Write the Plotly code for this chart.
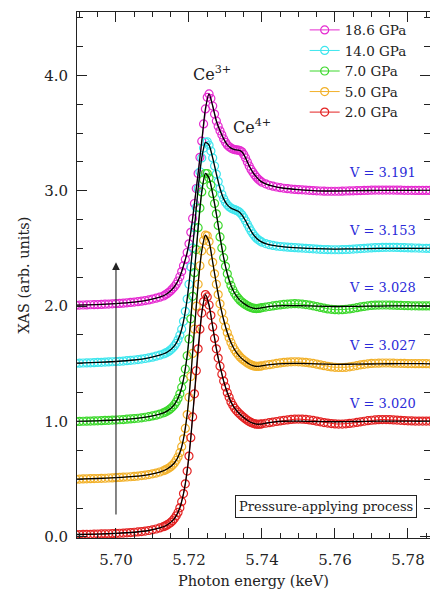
import plotly.graph_objects as go

# ---------------- data ----------------
E_PRE = [5.689, 5.690, 5.691, 5.692, 5.693, 5.694, 5.695, 5.696, 5.697, 5.698,
         5.699, 5.700, 5.701, 5.702, 5.703, 5.704, 5.705, 5.706, 5.707, 5.708,
         5.709, 5.710, 5.711, 5.712, 5.713]
E_EDGE = [5.7135, 5.7140, 5.7145, 5.7150, 5.7155, 5.7160, 5.7165, 5.7170, 5.7175, 5.7180,
          5.7185, 5.7190, 5.7195, 5.7200, 5.7205, 5.7210, 5.7215, 5.7220, 5.7225, 5.7230,
          5.7235, 5.7240, 5.7245, 5.7250, 5.7255, 5.7260, 5.7265, 5.7270, 5.7275, 5.7280,
          5.7285, 5.7290, 5.7295, 5.7300, 5.7305, 5.7310, 5.7315, 5.7320, 5.7325, 5.7330,
          5.7335, 5.7340, 5.7345, 5.7350, 5.7355, 5.7360, 5.7365, 5.7370, 5.7375, 5.7380,
          5.7385, 5.7390, 5.7395, 5.7400]
E_TAIL = [5.741, 5.742, 5.743, 5.744, 5.745, 5.746, 5.747, 5.748, 5.749, 5.750,
          5.751, 5.752, 5.753, 5.754, 5.755, 5.756, 5.757, 5.758, 5.759, 5.760,
          5.761, 5.762, 5.763, 5.764, 5.765, 5.766, 5.767, 5.768, 5.769, 5.770,
          5.771, 5.772, 5.773, 5.774, 5.775, 5.776, 5.777, 5.778, 5.779, 5.780,
          5.781, 5.782, 5.783, 5.784, 5.785, 5.786, 5.787, 5.788, 5.789, 5.790]
ENERGY = E_PRE + E_EDGE + E_TAIL

# normalized XAS (measured), before vertical offset
XAS_186 = [0.008, 0.009, 0.010, 0.011, 0.012, 0.013, 0.014, 0.015, 0.017, 0.018,
           0.020, 0.022, 0.024, 0.026, 0.029, 0.032, 0.035, 0.039, 0.043, 0.048,
           0.054, 0.061, 0.069, 0.078, 0.088,
           0.098, 0.108, 0.120, 0.134, 0.150, 0.168, 0.190, 0.218, 0.255, 0.300,
           0.350, 0.405, 0.465, 0.540, 0.640, 0.760, 0.890, 1.020, 1.150, 1.290,
           1.430, 1.580, 1.710, 1.810, 1.840, 1.800, 1.735, 1.665, 1.605, 1.560,
           1.520, 1.485, 1.450, 1.420, 1.398, 1.382, 1.370, 1.362, 1.357, 1.354,
           1.352, 1.348, 1.338, 1.315, 1.285, 1.250, 1.215, 1.185, 1.160, 1.138,
           1.118, 1.100, 1.086, 1.074,
           1.060, 1.048, 1.040, 1.033, 1.027, 1.022, 1.018, 1.015, 1.012, 1.010,
           1.008, 1.006, 1.004, 1.002, 1.000, 0.998, 0.997, 0.996, 0.996, 0.996,
           0.996, 0.997, 0.998, 0.999, 1.000, 1.001, 1.002, 1.003, 1.004, 1.005,
           1.006, 1.006, 1.006, 1.006, 1.006, 1.006, 1.005, 1.005, 1.004, 1.004,
           1.004, 1.003, 1.003, 1.003, 1.003, 1.003, 1.003, 1.003, 1.003, 1.003]
XAS_140 = [0.005, 0.006, 0.007, 0.008, 0.009, 0.010, 0.012, 0.013, 0.015, 0.016,
           0.018, 0.020, 0.022, 0.024, 0.027, 0.030, 0.033, 0.037, 0.041, 0.046,
           0.052, 0.058, 0.066, 0.075, 0.085,
           0.092, 0.100, 0.110, 0.122, 0.137, 0.155, 0.178, 0.208, 0.248, 0.300,
           0.368, 0.455, 0.562, 0.690, 0.840, 1.005, 1.180, 1.355, 1.520, 1.665,
           1.785, 1.870, 1.920, 1.925, 1.895, 1.845, 1.785, 1.715, 1.645, 1.580,
           1.520, 1.470, 1.430, 1.400, 1.378, 1.362, 1.350, 1.342, 1.336, 1.330,
           1.322, 1.310, 1.292, 1.268, 1.240, 1.210, 1.180, 1.152, 1.127, 1.106,
           1.089, 1.075, 1.064, 1.055,
           1.042, 1.033, 1.026, 1.021, 1.017, 1.014, 1.011, 1.009, 1.007, 1.005,
           1.003, 1.001, 0.999, 0.997, 0.995, 0.993, 0.991, 0.990, 0.989, 0.989,
           0.989, 0.990, 0.991, 0.993, 0.995, 0.997, 0.999, 1.001, 1.003, 1.005,
           1.007, 1.008, 1.009, 1.010, 1.010, 1.010, 1.009, 1.008, 1.007, 1.006,
           1.005, 1.004, 1.003, 1.002, 1.001, 1.000, 1.000, 1.000, 1.000, 1.000]
XAS_70 = [0.000, 0.001, 0.002, 0.003, 0.004, 0.005, 0.006, 0.007, 0.009, 0.010,
          0.012, 0.013, 0.015, 0.017, 0.020, 0.022, 0.025, 0.028, 0.032, 0.037,
          0.042, 0.048, 0.055, 0.064, 0.075,
          0.082, 0.090, 0.100, 0.112, 0.127, 0.146, 0.170, 0.200, 0.240, 0.295,
          0.365, 0.455, 0.570, 0.715, 0.890, 1.085, 1.290, 1.490, 1.680, 1.850,
          1.990, 2.095, 2.150, 2.150, 2.110, 2.050, 1.975, 1.890, 1.800, 1.700,
          1.600, 1.505, 1.420, 1.345, 1.280, 1.225, 1.180, 1.142, 1.112, 1.088,
          1.068, 1.050, 1.036, 1.024, 1.013, 1.003, 0.995, 0.988, 0.983, 0.980,
          0.979, 0.980, 0.983, 0.987,
          0.992, 0.997, 1.002, 1.007, 1.011, 1.015, 1.018, 1.020, 1.021, 1.020,
          1.018, 1.014, 1.009, 1.003, 0.996, 0.989, 0.982, 0.976, 0.972, 0.969,
          0.968, 0.969, 0.972, 0.976, 0.981, 0.987, 0.993, 0.998, 1.003, 1.006,
          1.008, 1.009, 1.010, 1.010, 1.009, 1.008, 1.007, 1.006, 1.005, 1.004,
          1.003, 1.003, 1.002, 1.002, 1.002, 1.002, 1.002, 1.002, 1.002, 1.002]
XAS_50 = [0.000, 0.001, 0.002, 0.003, 0.004, 0.005, 0.006, 0.007, 0.008, 0.010,
          0.011, 0.013, 0.015, 0.017, 0.019, 0.021, 0.024, 0.027, 0.031, 0.035,
          0.040, 0.046, 0.053, 0.062, 0.073,
          0.080, 0.088, 0.097, 0.108, 0.122, 0.140, 0.163, 0.192, 0.230, 0.282,
          0.350, 0.440, 0.560, 0.710, 0.890, 1.090, 1.300, 1.500, 1.690, 1.850,
          1.980, 2.070, 2.115, 2.110, 2.060, 1.975, 1.880, 1.780, 1.690, 1.600,
          1.520, 1.445, 1.380, 1.320, 1.270, 1.225, 1.185, 1.150, 1.122, 1.098,
          1.078, 1.060, 1.045, 1.032, 1.020, 1.008, 0.998, 0.990, 0.984, 0.980,
          0.978, 0.978, 0.980, 0.983,
          0.988, 0.993, 0.998, 1.003, 1.008, 1.012, 1.015, 1.017, 1.018, 1.017,
          1.015, 1.012, 1.008, 1.003, 0.997, 0.990, 0.984, 0.978, 0.973, 0.970,
          0.968, 0.968, 0.970, 0.974, 0.979, 0.985, 0.991, 0.996, 1.000, 1.003,
          1.005, 1.006, 1.007, 1.007, 1.007, 1.006, 1.005, 1.004, 1.003, 1.002,
          1.002, 1.001, 1.001, 1.001, 1.001, 1.000, 1.000, 1.000, 1.000, 1.000]
XAS_20 = [0.020, 0.020, 0.021, 0.022, 0.022, 0.023, 0.024, 0.025, 0.026, 0.027,
          0.028, 0.030, 0.031, 0.033, 0.035, 0.037, 0.040, 0.043, 0.046, 0.050,
          0.055, 0.061, 0.068, 0.077, 0.088,
          0.095, 0.103, 0.113, 0.125, 0.140, 0.158, 0.182, 0.212, 0.252, 0.305,
          0.375, 0.460, 0.570, 0.700, 0.860, 1.040, 1.240, 1.440, 1.630, 1.800,
          1.940, 2.040, 2.100, 2.080, 2.010, 1.920, 1.820, 1.720, 1.630, 1.550,
          1.480, 1.410, 1.350, 1.300, 1.250, 1.210, 1.170, 1.140, 1.115, 1.095,
          1.078, 1.062, 1.048, 1.035, 1.022, 1.010, 1.000, 0.992, 0.985, 0.980,
          0.977, 0.976, 0.977, 0.980,
          0.985, 0.990, 0.995, 1.000, 1.005, 1.010, 1.014, 1.018, 1.020, 1.021,
          1.020, 1.018, 1.014, 1.009, 1.003, 0.997, 0.991, 0.986, 0.982, 0.979,
          0.978, 0.978, 0.980, 0.983, 0.987, 0.992, 0.997, 1.002, 1.007, 1.011,
          1.014, 1.016, 1.017, 1.017, 1.016, 1.014, 1.012, 1.010, 1.008, 1.006,
          1.005, 1.004, 1.004, 1.004, 1.004, 1.004, 1.004, 1.004, 1.004, 1.004]

# fitted curves (black lines), on a coarser energy grid
FIT_E = [5.689, 5.695, 5.700, 5.705, 5.709, 5.712, 5.714, 5.716, 5.7175, 5.7185,
         5.7195, 5.7205, 5.7215, 5.7225, 5.7235, 5.7245, 5.7255, 5.7265, 5.7275, 5.7285,
         5.7295, 5.7305, 5.7315, 5.7325, 5.7335, 5.7345, 5.7355, 5.7365, 5.7375, 5.7385,
         5.7395, 5.741, 5.743, 5.746, 5.750, 5.755, 5.760, 5.766, 5.772, 5.778,
         5.784, 5.790]
FIT_186 = [0.008, 0.014, 0.022, 0.035, 0.054, 0.078, 0.108, 0.168, 0.255, 0.350,
           0.465, 0.640, 0.890, 1.150, 1.430, 1.710, 1.840, 1.735, 1.605, 1.520,
           1.450, 1.398, 1.370, 1.357, 1.352, 1.338, 1.285, 1.215, 1.160, 1.118,
           1.086, 1.060, 1.040, 1.022, 1.010, 1.000, 0.998, 1.001, 1.004, 1.004,
           1.003, 1.003]
FIT_140 = [0.005, 0.012, 0.020, 0.033, 0.052, 0.075, 0.100, 0.155, 0.248, 0.368,
           0.562, 0.840, 1.180, 1.520, 1.785, 1.920, 1.895, 1.785, 1.645, 1.520,
           1.430, 1.378, 1.350, 1.336, 1.322, 1.292, 1.240, 1.180, 1.127, 1.089,
           1.064, 1.042, 1.026, 1.014, 1.005, 0.998, 0.995, 0.997, 1.000, 1.001,
           1.001, 1.000]
FIT_70 = [0.000, 0.006, 0.013, 0.025, 0.042, 0.064, 0.090, 0.146, 0.240, 0.365,
          0.570, 0.890, 1.290, 1.680, 1.990, 2.150, 2.110, 1.975, 1.800, 1.600,
          1.420, 1.280, 1.180, 1.112, 1.068, 1.036, 1.013, 0.995, 0.983, 0.979,
          0.983, 0.992, 1.000, 1.004, 1.004, 1.001, 0.997, 0.998, 1.001, 1.002,
          1.002, 1.002]
FIT_50 = [0.000, 0.006, 0.013, 0.024, 0.040, 0.062, 0.088, 0.140, 0.230, 0.350,
          0.560, 0.890, 1.300, 1.690, 1.980, 2.115, 2.060, 1.880, 1.690, 1.520,
          1.380, 1.270, 1.185, 1.122, 1.078, 1.045, 1.020, 0.998, 0.984, 0.978,
          0.980, 0.988, 0.996, 1.002, 1.003, 1.000, 0.996, 0.997, 1.000, 1.001,
          1.001, 1.000]
FIT_20 = [0.020, 0.024, 0.030, 0.040, 0.055, 0.077, 0.103, 0.158, 0.252, 0.375,
          0.570, 0.860, 1.240, 1.630, 1.940, 2.100, 2.010, 1.820, 1.630, 1.480,
          1.350, 1.250, 1.170, 1.115, 1.078, 1.048, 1.022, 1.000, 0.985, 0.977,
          0.977, 0.985, 0.995, 1.002, 1.003, 1.000, 0.998, 1.000, 1.003, 1.003,
          1.002, 1.002]

PRESSURES = ["18.6 GPa", "14.0 GPa", "7.0 GPa", "5.0 GPa", "2.0 GPa"]
OFFSETS = [2.0, 1.5, 1.0, 0.5, 0.0]
VOLUMES = ["V = 3.191", "V = 3.153", "V = 3.028", "V = 3.027", "V = 3.020"]
MEASURED = [XAS_186, XAS_140, XAS_70, XAS_50, XAS_20]
FITTED = [FIT_186, FIT_140, FIT_70, FIT_50, FIT_20]

for s in MEASURED:
    assert len(s) == len(ENERGY), len(s)
for s in FITTED:
    assert len(s) == len(FIT_E), len(s)

# ---------------- style ----------------
COLORS = ["#e52ad0", "#3ee6ee", "#3cd82c", "#f2b12a", "#e32222"]
FONT = "DejaVu Serif"
INK = "#222222"
VBLUE = "#2a2ad8"

fig = go.Figure()
for name, off, ys, col in zip(PRESSURES, OFFSETS, MEASURED, COLORS):
    fig.add_trace(go.Scatter(
        x=ENERGY, y=[v + off for v in ys], name=name, mode="lines+markers",
        line=dict(color=col, width=1),
        marker=dict(symbol="circle-open", size=8, color=col, line=dict(width=1.2)),
    ))
for off, ys in zip(OFFSETS, FITTED):
    fig.add_trace(go.Scatter(
        x=FIT_E, y=[v + off for v in ys], mode="lines", showlegend=False,
        line=dict(color="black", width=1.3, shape="spline", smoothing=0.6),
        hoverinfo="skip",
    ))

ann = []
for off, txt in zip(OFFSETS, VOLUMES):
    ann.append(dict(x=5.7828, y=off + 1.16, xref="x", yref="y", text=txt,
                    showarrow=False, xanchor="right", yanchor="middle",
                    font=dict(family=FONT, size=13, color=VBLUE)))
ann.append(dict(x=5.7264, y=4.02, xref="x", yref="y", text="Ce<sup>3+</sup>",
                showarrow=False, font=dict(family=FONT, size=16, color=INK)))
ann.append(dict(x=5.7372, y=3.56, xref="x", yref="y", text="Ce<sup>4+</sup>",
                showarrow=False, font=dict(family=FONT, size=16, color=INK)))
ann.append(dict(x=5.7576, y=0.26, xref="x", yref="y", text="Pressure-applying process",
                showarrow=False, bordercolor=INK, borderwidth=1, borderpad=3,
                bgcolor="white", font=dict(family=FONT, size=13, color=INK)))
ann.append(dict(x=5.700, y=2.38, ax=5.700, ay=0.18, xref="x", yref="y",
                axref="x", ayref="y", text="", showarrow=True, arrowhead=2,
                arrowsize=1.4, arrowwidth=1.1, arrowcolor=INK))

axis_common = dict(showline=True, linecolor=INK, linewidth=1, mirror="allticks",
                   ticks="inside", ticklen=10, tickwidth=1, tickcolor=INK,
                   showgrid=False, zeroline=False,
                   tickfont=dict(family=FONT, size=15, color=INK))

fig.update_layout(
    width=430, height=591,
    margin=dict(l=77, r=0, t=12, b=53),
    paper_bgcolor="white", plot_bgcolor="white",
    font=dict(family=FONT, size=14, color=INK),
    annotations=ann,
    legend=dict(x=0.645, y=0.995, xanchor="left", yanchor="top",
                bgcolor="rgba(0,0,0,0)", itemwidth=30,
                font=dict(family=FONT, size=13.5, color=INK)),
    xaxis=dict(range=[5.68932, 5.78603], dtick=0.02, tick0=5.70, tickformat=".2f",
               minor=dict(dtick=0.005, ticks="inside", ticklen=5, tickcolor=INK),
               ticklabelstandoff=8,
               title=dict(text="Photon energy (keV)", standoff=7,
                          font=dict(family=FONT, size=14.5, color=INK)),
               **axis_common),
    yaxis=dict(range=[-0.01, 4.55], dtick=1, tick0=0, tickformat=".1f",
               minor=dict(dtick=0.25, ticks="inside", ticklen=6, tickcolor=INK),
               ticklabelstandoff=5,
               title=dict(text="XAS (arb. units)", standoff=11,
                          font=dict(family=FONT, size=14.5, color=INK)),
               **axis_common),
)

fig.write_html("out.html")
